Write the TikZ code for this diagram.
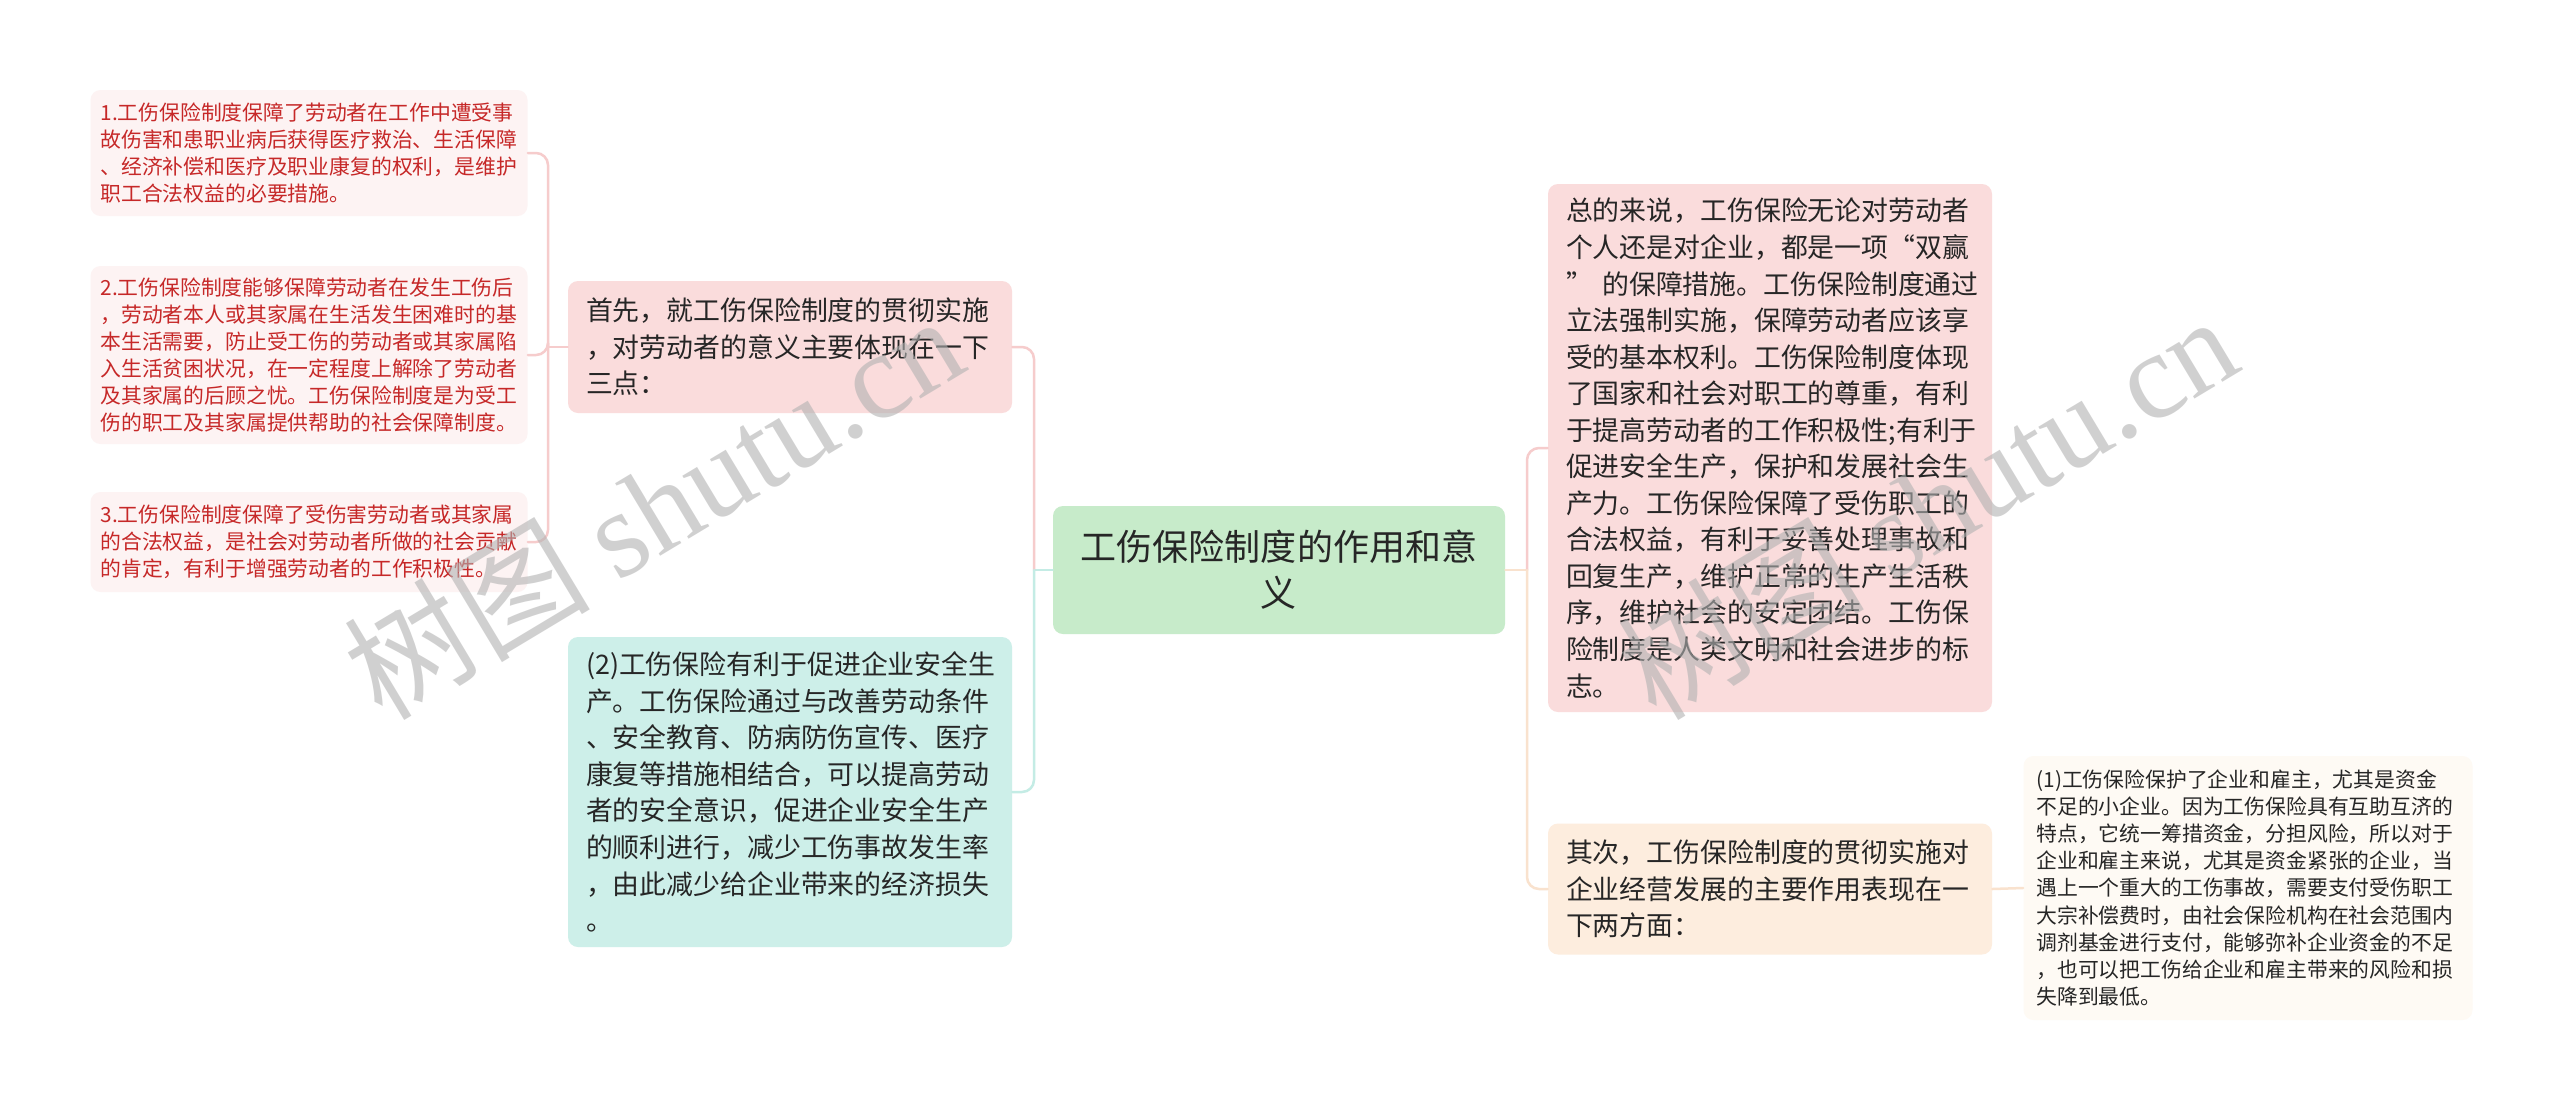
\documentclass[tikz,border=0pt]{standalone}
\usepackage{fontspec}
\setmainfont{Noto Sans CJK SC}
\newfontfamily\wmfont{Liberation Serif}
\usepackage{tikz}
\usetikzlibrary{positioning,calc}
\definecolor{rootfill}{HTML}{C7EBCA}
\definecolor{pinkfill}{HTML}{FADCDC}
\definecolor{tealfill}{HTML}{CDEFE9}
\definecolor{leaffill}{HTML}{FDF3F3}
\definecolor{leaftext}{HTML}{C62828}
\definecolor{peachfill}{HTML}{FDEDDE}
\definecolor{creamfill}{HTML}{FEFAF4}
\definecolor{pinkline}{HTML}{F6CCCC}
\definecolor{tealline}{HTML}{C4ECE5}
\definecolor{peachline}{HTML}{F9E2CE}
\definecolor{darktext}{HTML}{262626}
\tikzset{box/.style={draw=none,rounded corners=0.2cm,inner ysep=0pt,align=left}}

\begin{document}
\begin{tikzpicture}[
        mid/.style={box,text width=8.16cm,inner xsep=0.36cm,minimum height=#1,font=\fontsize{15.3}{20.8}\selectfont,text=darktext},
        small/.style={box,text width=8.34cm,inner xsep=0.2cm,minimum height=#1,font=\fontsize{11.85}{15.4}\selectfont},
        link/.style={line width=0.05cm,rounded corners=0.24cm,line cap=round}]
        \fill[white] (0,0) rectangle (51.2,-22.22);
        \useasboundingbox (0,0) rectangle (51.2,-22.22);
        % centre
        \node[box,fill=rootfill,align=center,minimum width=9.04cm,minimum height=2.56cm,text=darktext,font=\fontsize{20.5}{26.2}\selectfont] (root) at (25.58,-11.40) {工伤保险制度的作用和意\\义};
        % left side
        \node[mid=2.64cm,fill=pinkfill] (l1) at (15.80,-6.94) {首先，就工伤保险制度的贯彻实施\\，对劳动者的意义主要体现在一下\\三点：};
        \node[mid=6.20cm,fill=tealfill] (l2) at (15.80,-15.84) {(2)工伤保险有利于促进企业安全生\\产。工伤保险通过与改善劳动条件\\、安全教育、防病防伤宣传、医疗\\康复等措施相结合，可以提高劳动\\者的安全意识，促进企业安全生产\\的顺利进行，减少工伤事故发生率\\，由此减少给企业带来的经济损失\\。};
        \node[small=2.52cm,fill=leaffill,text=leaftext] (ll1) at (6.18,-3.06) {1.工伤保险制度保障了劳动者在工作中遭受事\\故伤害和患职业病后获得医疗救治、生活保障\\、经济补偿和医疗及职业康复的权利，是维护\\职工合法权益的必要措施。};
        \node[small=3.56cm,fill=leaffill,text=leaftext] (ll2) at (6.18,-7.10) {2.工伤保险制度能够保障劳动者在发生工伤后\\，劳动者本人或其家属在生活发生困难时的基\\本生活需要，防止受工伤的劳动者或其家属陷\\入生活贫困状况，在一定程度上解除了劳动者\\及其家属的后顾之忧。工伤保险制度是为受工\\伤的职工及其家属提供帮助的社会保障制度。};
        \node[small=2.0cm,fill=leaffill,text=leaftext] (ll3) at (6.18,-10.84) {3.工伤保险制度保障了受伤害劳动者或其家属\\的合法权益，是社会对劳动者所做的社会贡献\\的肯定，有利于增强劳动者的工作积极性。};
        % right side
        \node[mid=10.56cm,fill=pinkfill] (r1) at (35.40,-8.96) {总的来说，工伤保险无论对劳动者\\个人还是对企业，都是一项“双赢\\”\kern0.35em的保障措施。工伤保险制度通过\\立法强制实施，保障劳动者应该享\\受的基本权利。工伤保险制度体现\\了国家和社会对职工的尊重，有利\\于提高劳动者的工作积极性;有利于\\促进安全生产，保护和发展社会生\\产力。工伤保险保障了受伤职工的\\合法权益，有利于妥善处理事故和\\回复生产，维护正常的生产生活秩\\序，维护社会的安定团结。工伤保\\险制度是人类文明和社会进步的标\\志。};
        \node[mid=2.62cm,fill=peachfill] (r2) at (35.40,-17.78) {其次，工伤保险制度的贯彻实施对\\企业经营发展的主要作用表现在一\\下两方面：};
        \node[small=5.28cm,fill=creamfill,text=darktext,text width=8.46cm,inner xsep=0.26cm] (rr1) at (44.96,-17.76) {(1)工伤保险保护了企业和雇主，尤其是资金\\不足的小企业。因为工伤保险具有互助互济的\\特点，它统一筹措资金，分担风险，所以对于\\企业和雇主来说，尤其是资金紧张的企业，当\\遇上一个重大的工伤事故，需要支付受伤职工\\大宗补偿费时，由社会保险机构在社会范围内\\调剂基金进行支付，能够弥补企业资金的不足\\，也可以把工伤给企业和雇主带来的风险和损\\失降到最低。};
        % connectors
        \coordinate (lbus) at (20.68,-11.40);
        \coordinate (l1bus) at (10.96,-6.94);
        \coordinate (rbus) at (30.54,-11.40);
        \draw[link,draw=tealline] (root.west) -- (lbus);
        \draw[link,draw=pinkline] (lbus) |- (l1.east);
        \draw[link,draw=tealline] (lbus) |- (l2.east);
        \draw[link,draw=pinkline] (l1.west) -- (l1bus);
        \draw[link,draw=pinkline] (l1bus) |- (ll1.east);
        \draw[link,draw=pinkline] (l1bus) |- (ll2.east);
        \draw[link,draw=pinkline] (l1bus) |- (ll3.east);
        \draw[link,draw=peachline] (root.east) -- (rbus);
        \draw[link,draw=pinkline] (rbus) |- (r1.west);
        \draw[link,draw=peachline] (rbus) |- (r2.west);
        \draw[link,draw=peachline] (r2.east) -- (rr1.west);
        % watermark
        \node[rotate=31,text=black!30,opacity=0.6,font=\fontsize{70}{70}\selectfont] (wmleft) at (13.06,-10.12) {树图 {\wmfont shutu.cn}};
        \node[rotate=31,text=black!30,opacity=0.6,font=\fontsize{70}{70}\selectfont] (wmright) at (38.54,-10.12) {树图 {\wmfont shutu.cn}};
\end{tikzpicture}
\end{document}
